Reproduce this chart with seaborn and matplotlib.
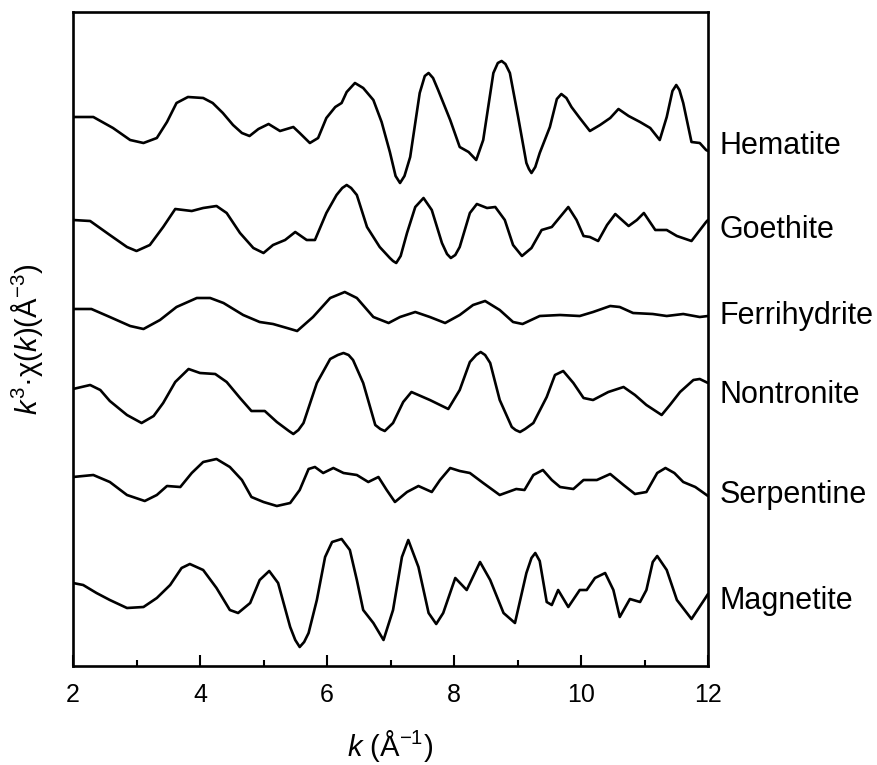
import numpy as np
import pandas as pd
import matplotlib
matplotlib.use("Agg")
import matplotlib.pyplot as plt
from matplotlib.ticker import MultipleLocator
import seaborn as sns

# ---- data (k in 1/Angstrom, stacked k^3*chi(k) in arbitrary units) ----
names = ["Hematite", "Goethite", "Ferrihydrite", "Nontronite", "Serpentine", "Magnetite"]

k_hematite = [2.0, 2.32, 2.63, 2.9, 3.11, 3.32, 3.48, 3.63, 3.81, 4.05, 4.2, 4.36, 4.52, 4.66, 4.78,
              4.92, 5.08, 5.26, 5.47, 5.57, 5.73, 5.86, 5.99, 6.13, 6.23, 6.31, 6.44, 6.57, 6.73, 6.86,
              6.99, 7.08, 7.15, 7.22, 7.31, 7.46, 7.54, 7.6, 7.67, 7.75, 7.94, 8.09, 8.23, 8.35, 8.46,
              8.62, 8.69, 8.75, 8.81, 8.88, 9.01, 9.14, 9.18, 9.22, 9.28, 9.35, 9.51, 9.62, 9.69, 9.77,
              9.85, 9.98, 10.14, 10.30, 10.46, 10.59, 10.75, 10.93, 11.09, 11.24, 11.35, 11.44, 11.50,
              11.55, 11.61, 11.74, 11.87, 11.97, 12.0]
y_hematite = [549, 549, 538, 526, 523, 528, 544, 563, 569, 568, 563, 553, 541, 533, 530,
              537, 542, 535, 539, 533, 523, 528, 548, 559, 563, 574, 583, 578, 566, 544,
              514, 490, 483, 490, 509, 573, 590, 593, 588, 576, 546, 519, 514, 506, 526,
              593, 603, 605, 602, 593, 549, 503, 497, 493, 499, 513, 539, 567, 572, 568,
              559, 548, 535, 541, 548, 557, 550, 544, 538, 526, 549, 575, 581,
              576, 563, 524, 523, 516, 515]

k_goethite = [2.0, 2.27, 2.58, 2.85, 3.0, 3.21, 3.42, 3.61, 3.87, 4.05, 4.26, 4.42, 4.63, 4.84, 5.0,
              5.15, 5.34, 5.50, 5.68, 5.81, 5.99, 6.15, 6.24, 6.31, 6.38, 6.47, 6.63, 6.83, 6.99, 7.04,
              7.09, 7.16, 7.26, 7.39, 7.52, 7.65, 7.81, 7.89, 7.95, 8.02, 8.09, 8.25, 8.36, 8.52, 8.65,
              8.80, 8.93, 9.07, 9.22, 9.38, 9.54, 9.67, 9.80, 9.93, 10.04, 10.14, 10.27, 10.41, 10.54,
              10.75, 10.88, 10.99, 11.17, 11.35, 11.51, 11.74, 11.97, 12.0]
y_goethite = [446, 445, 431, 419, 415, 421, 439, 457, 455, 458, 460, 453, 433, 418, 413,
              421, 426, 434, 426, 426, 453, 471, 478, 481, 478, 471, 439, 419, 408, 405,
              403, 410, 433, 459, 468, 456, 423, 412, 408, 411, 419, 453, 462, 458, 459,
              446, 421, 410, 418, 436, 439, 449, 459, 446, 430, 429, 425, 441, 452,
              440, 446, 453, 436, 436, 430, 425, 444, 446]

k_ferrihydrite = [2.0, 2.29, 2.58, 2.9, 3.11, 3.37, 3.63, 3.95, 4.16, 4.37, 4.68, 4.94, 5.15, 5.37,
                  5.53, 5.78, 6.05, 6.28, 6.47, 6.73, 6.97, 7.15, 7.39, 7.62, 7.86, 8.09, 8.30, 8.49,
                  8.72, 8.93, 9.08, 9.35, 9.67, 9.98, 10.19, 10.46, 10.61, 10.82, 11.13, 11.35, 11.61,
                  11.87, 12.0]
y_ferrihydrite = [357, 357, 349, 340, 337, 346, 359, 368, 368, 363, 351, 344, 342, 338,
                  335, 349, 368, 374, 368, 349, 343, 349, 354, 349, 343, 351, 361, 365,
                  356, 344, 342, 350, 351, 350, 354, 360, 359, 353, 352, 350, 352,
                  349, 350]

k_nontronite = [2.0, 2.27, 2.43, 2.58, 2.85, 3.08, 3.27, 3.42, 3.61, 3.82, 4.0, 4.24, 4.42, 4.63,
                4.81, 5.02, 5.21, 5.40, 5.47, 5.55, 5.63, 5.84, 6.05, 6.17, 6.26, 6.34, 6.41, 6.57,
                6.76, 6.84, 6.91, 7.04, 7.20, 7.33, 7.62, 7.91, 8.09, 8.25, 8.35, 8.42, 8.49, 8.57,
                8.72, 8.91, 8.97, 9.04, 9.12, 9.25, 9.46, 9.59, 9.72, 9.88, 10.04, 10.19, 10.43, 10.67,
                10.85, 11.03, 11.27, 11.40, 11.56, 11.77, 11.87, 12.0]
y_nontronite = [277, 281, 276, 265, 251, 243, 250, 263, 284, 297, 293, 292, 284, 268,
                255, 255, 244, 235, 232, 236, 243, 283, 307, 311, 313, 311, 306, 283,
                241, 237, 235, 243, 264, 274, 266, 257, 276, 304, 311, 314, 311, 303,
                266, 239, 236, 234, 237, 243, 269, 291, 295, 283, 268, 266, 274, 279,
                271, 261, 251, 261, 274, 286, 287, 283]

k_serpentine = [2.0, 2.32, 2.58, 2.85, 3.13, 3.32, 3.48, 3.69, 3.87, 4.05, 4.26, 4.47, 4.66, 4.81,
                5.0, 5.21, 5.42, 5.57, 5.71, 5.81, 5.94, 6.10, 6.26, 6.47, 6.65, 6.81, 6.94, 7.07,
                7.26, 7.44, 7.65, 7.78, 7.94, 8.09, 8.25, 8.46, 8.72, 8.98, 9.11, 9.25, 9.40, 9.54,
                9.67, 9.88, 10.04, 10.25, 10.46, 10.67, 10.85, 11.03, 11.20, 11.33, 11.47, 11.61,
                11.80, 12.0]
y_serpentine = [189, 191, 184, 171, 165, 171, 180, 179, 193, 204, 207, 199, 186, 169,
                164, 160, 163, 176, 197, 199, 193, 198, 193, 191, 184, 189, 176, 164,
                174, 180, 174, 186, 198, 195, 193, 183, 171, 177, 176, 191, 196, 186,
                179, 177, 186, 186, 192, 181, 172, 174, 193, 198, 193, 184,
                179, 170]

k_magnetite = [2.0, 2.16, 2.37, 2.58, 2.85, 3.11, 3.32, 3.53, 3.71, 3.84, 4.05, 4.26, 4.47, 4.60,
               4.79, 4.94, 5.09, 5.23, 5.42, 5.50, 5.57, 5.64, 5.71, 5.84, 5.97, 6.08, 6.23, 6.36,
               6.47, 6.57, 6.73, 6.89, 7.04, 7.18, 7.28, 7.44, 7.60, 7.72, 7.83, 8.02, 8.20, 8.41,
               8.57, 8.78, 8.96, 9.14, 9.22, 9.28, 9.35, 9.46, 9.54, 9.64, 9.80, 9.98, 10.09, 10.22,
               10.38, 10.51, 10.61, 10.77, 10.93, 11.03, 11.13, 11.20, 11.35, 11.51, 11.74, 11.97, 12.0]
y_magnetite = [83, 81, 73, 66, 58, 59, 68, 81, 98, 102, 96, 78, 56, 53,
               63, 86, 95, 83, 39, 26, 19, 24, 33, 66, 109, 124, 127, 116,
               86, 56, 43, 26, 56, 109, 126, 99, 53, 42, 53, 88, 76, 104,
               86, 53, 43, 93, 108, 113, 105, 64, 61, 76, 59, 76, 76, 88,
               93, 76, 49, 67, 64, 76, 104, 110, 96, 66, 47, 69, 72]

label_y = [520, 436, 350, 271, 171, 65]

series_k = [k_hematite, k_goethite, k_ferrihydrite, k_nontronite, k_serpentine, k_magnetite]
series_y = [y_hematite, y_goethite, y_ferrihydrite, y_nontronite, y_serpentine, y_magnetite]

frames = []
for n, kk, yy in zip(names, series_k, series_y):
    frames.append(pd.DataFrame({"k": kk, "chi": yy, "sample": n}))
df = pd.concat(frames, ignore_index=True)

# ---- style ----
sns.set_theme(style="ticks")
plt.rcParams["font.family"] = ["Liberation Sans", "DejaVu Sans"]
plt.rcParams["mathtext.fontset"] = "custom"
plt.rcParams["mathtext.rm"] = "Liberation Sans"
plt.rcParams["mathtext.it"] = "Liberation Sans:italic"
plt.rcParams["mathtext.bf"] = "Liberation Sans:bold"
plt.rcParams["text.color"] = "black"
plt.rcParams["axes.labelcolor"] = "black"
plt.rcParams["xtick.color"] = "black"
plt.rcParams["ytick.color"] = "black"

fig = plt.figure(figsize=(8.77, 7.65), dpi=100)
ax = fig.add_axes([73 / 877, 1 - 666 / 765, 635 / 877, 654 / 765])

sns.lineplot(data=df, x="k", y="chi", hue="sample", palette=["black"] * len(names),
             estimator=None, sort=False, legend=False, linewidth=1.9, ax=ax)
for ln in ax.get_lines():
    ln.set_solid_joinstyle("round")
    ln.set_solid_capstyle("round")

ax.set_xlim(2, 12)
ax.set_ylim(0, 654)
ax.set_yticks([])
ax.xaxis.set_major_locator(MultipleLocator(2))
ax.xaxis.set_minor_locator(MultipleLocator(1))
ax.tick_params(axis="x", which="major", direction="in", length=8, width=1.5,
               labelsize=18, pad=12, colors="black", labelcolor="black")
ax.tick_params(axis="x", which="minor", direction="in", length=4, width=1.5)
for s in ax.spines.values():
    s.set_linewidth(1.9)
    s.set_color("black")
    s.set_visible(True)

ax.set_xlabel(r"$k$ (Å$^{-1}$)", fontsize=21, labelpad=15, color="black")
ax.set_ylabel(r"$k^3$·χ($k$)(Å$^{-3}$)", fontsize=21, labelpad=20, color="black")

for n, ly in zip(names, label_y):
    ax.text(1.018, ly, n, transform=ax.get_yaxis_transform(), fontsize=22,
            va="center", ha="left", color="black")

fig.savefig("out.png", dpi=100)
